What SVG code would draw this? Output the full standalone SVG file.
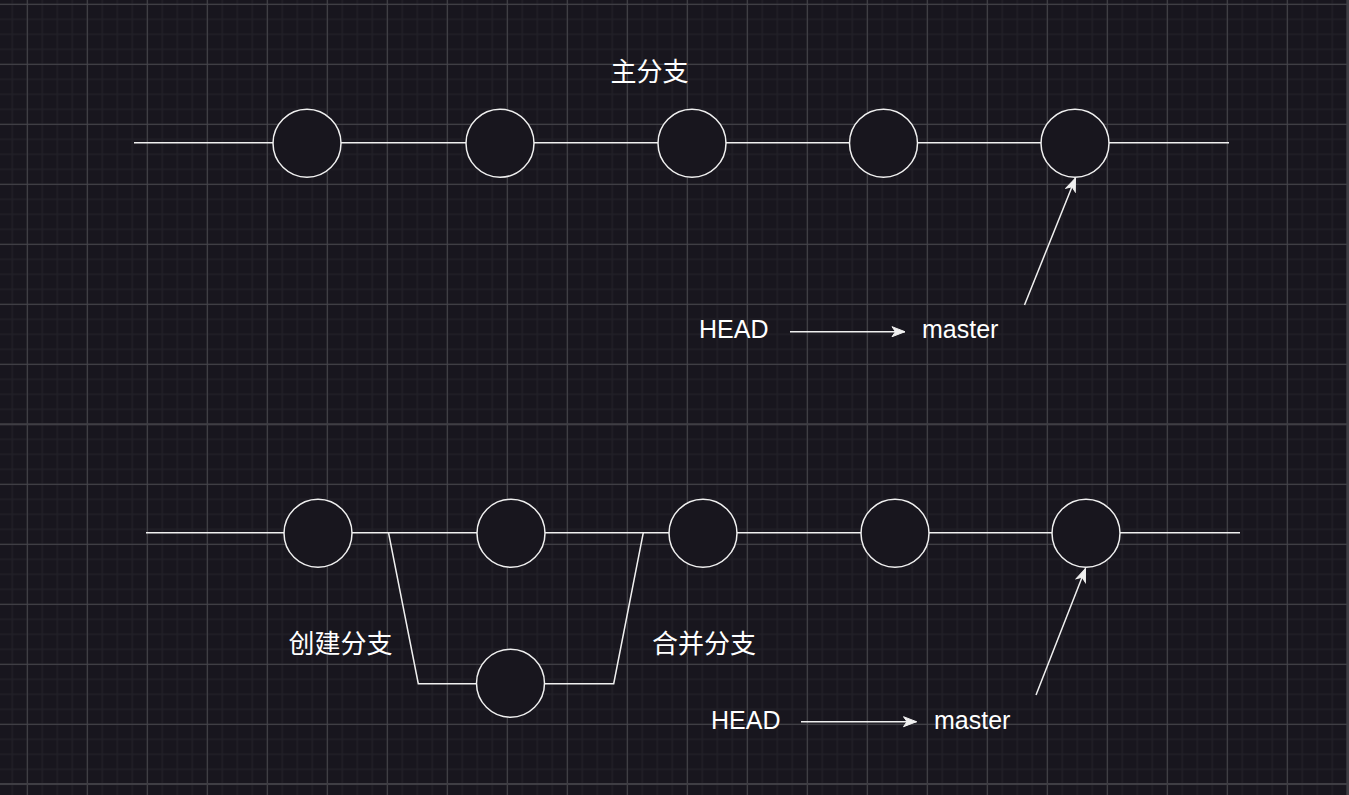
<svg xmlns="http://www.w3.org/2000/svg" width="1349" height="795" viewBox="0 0 1349 795">
  <style>
    .edge { stroke: #f0f0f0; stroke-width: 1.5; fill: none; }
    .commit { fill: #18161e; stroke: #f0f0f0; stroke-width: 1.5; }
    .lbl { fill: #ffffff; font-family: "Liberation Sans", Arial, "Noto Sans CJK SC", sans-serif; font-size: 25px; }
    .cjk { fill: #ffffff; font-family: "Noto Sans CJK SC", "Liberation Sans", sans-serif; font-size: 26px; text-anchor: middle; }
  </style>
  <defs>
    <pattern id="minor" patternUnits="userSpaceOnUse" x="11.5" y="3.5" width="15" height="15">
      <rect x="0" y="0" width="1.5" height="15" fill="#212027"/>
      <rect x="0" y="0" width="15" height="1.5" fill="#212027"/>
    </pattern>
    <pattern id="major" patternUnits="userSpaceOnUse" x="26.8" y="3.8" width="60" height="60">
      <rect x="0" y="0" width="1" height="60" fill="#47464c"/>
      <rect x="0" y="0" width="60" height="1" fill="#47464c"/>
    </pattern>
    <marker id="arrow" markerUnits="userSpaceOnUse" viewBox="-14 -6 16 12" refX="0" refY="0" markerWidth="16" markerHeight="12" orient="auto">
      <path d="M-13,-5 L0,0 L-13,5 L-9.5,0 Z" fill="#f0f0f0" stroke="#f0f0f0" stroke-width="1"/>
    </marker>
  </defs>

  <g id="background">
    <rect x="0" y="0" width="1349" height="795" fill="#18161e"/>
    <rect x="0" y="0" width="1349" height="795" fill="url(#minor)"/>
    <rect x="0" y="0" width="1349" height="795" fill="url(#major)"/>
    <rect x="0" y="423.3" width="1349" height="2" fill="#3f3e44"/>
    <rect x="0" y="783" width="1349" height="2" fill="#3f3e44"/>
    <rect x="1346.5" y="0" width="2.5" height="795" fill="#3f3e44"/>
  </g>

  <g id="connectors">
    <line class="edge" x1="134" y1="142.7" x2="1229" y2="142.7"/>
    <line class="edge" x1="146" y1="532.7" x2="1240" y2="532.7"/>
    <polyline class="edge" points="388.5,532.7 418.3,683.7 477,683.7"/>
    <polyline class="edge" points="544.5,683.7 613.7,683.7 643.3,532.7"/>
    <line class="edge" x1="1024.5" y1="305" x2="1075.5" y2="178" marker-end="url(#arrow)"/>
    <line class="edge" x1="790" y1="331.7" x2="905" y2="331.7" marker-end="url(#arrow)"/>
    <line class="edge" x1="1036" y1="695" x2="1085.5" y2="568.5" marker-end="url(#arrow)"/>
    <line class="edge" x1="801" y1="721.7" x2="916.5" y2="721.7" marker-end="url(#arrow)"/>
  </g>

  <g id="top-c1"><circle class="commit" cx="307" cy="143.3" r="34"/></g>
  <g id="top-c2"><circle class="commit" cx="500" cy="143.3" r="34"/></g>
  <g id="top-c3"><circle class="commit" cx="692" cy="143.3" r="34"/></g>
  <g id="top-c4"><circle class="commit" cx="883.5" cy="143.3" r="34"/></g>
  <g id="top-c5"><circle class="commit" cx="1075" cy="143.3" r="34"/></g>

  <g id="bot-c1"><circle class="commit" cx="318" cy="533.3" r="34"/></g>
  <g id="bot-c2"><circle class="commit" cx="511" cy="533.3" r="34"/></g>
  <g id="bot-c3"><circle class="commit" cx="703" cy="533.3" r="34"/></g>
  <g id="bot-c4"><circle class="commit" cx="895" cy="533.3" r="34"/></g>
  <g id="bot-c5"><circle class="commit" cx="1086" cy="533.3" r="34"/></g>
  <g id="branch-c1"><circle class="commit" cx="510.5" cy="683.3" r="34"/></g>

  <g id="label-main"><text class="cjk" x="649.5" y="80.5">主分支</text></g>
  <g id="label-create"><text class="cjk" x="340.5" y="653">创建分支</text></g>
  <g id="label-merge"><text class="cjk" x="704" y="653">合并分支</text></g>

  <g id="top-head"><text class="lbl" x="699" y="338.3">HEAD</text></g>
  <g id="top-master"><text class="lbl" x="922" y="338.3">master</text></g>
  <g id="bot-head"><text class="lbl" x="711" y="729.3">HEAD</text></g>
  <g id="bot-master"><text class="lbl" x="934" y="729.3">master</text></g>
</svg>
